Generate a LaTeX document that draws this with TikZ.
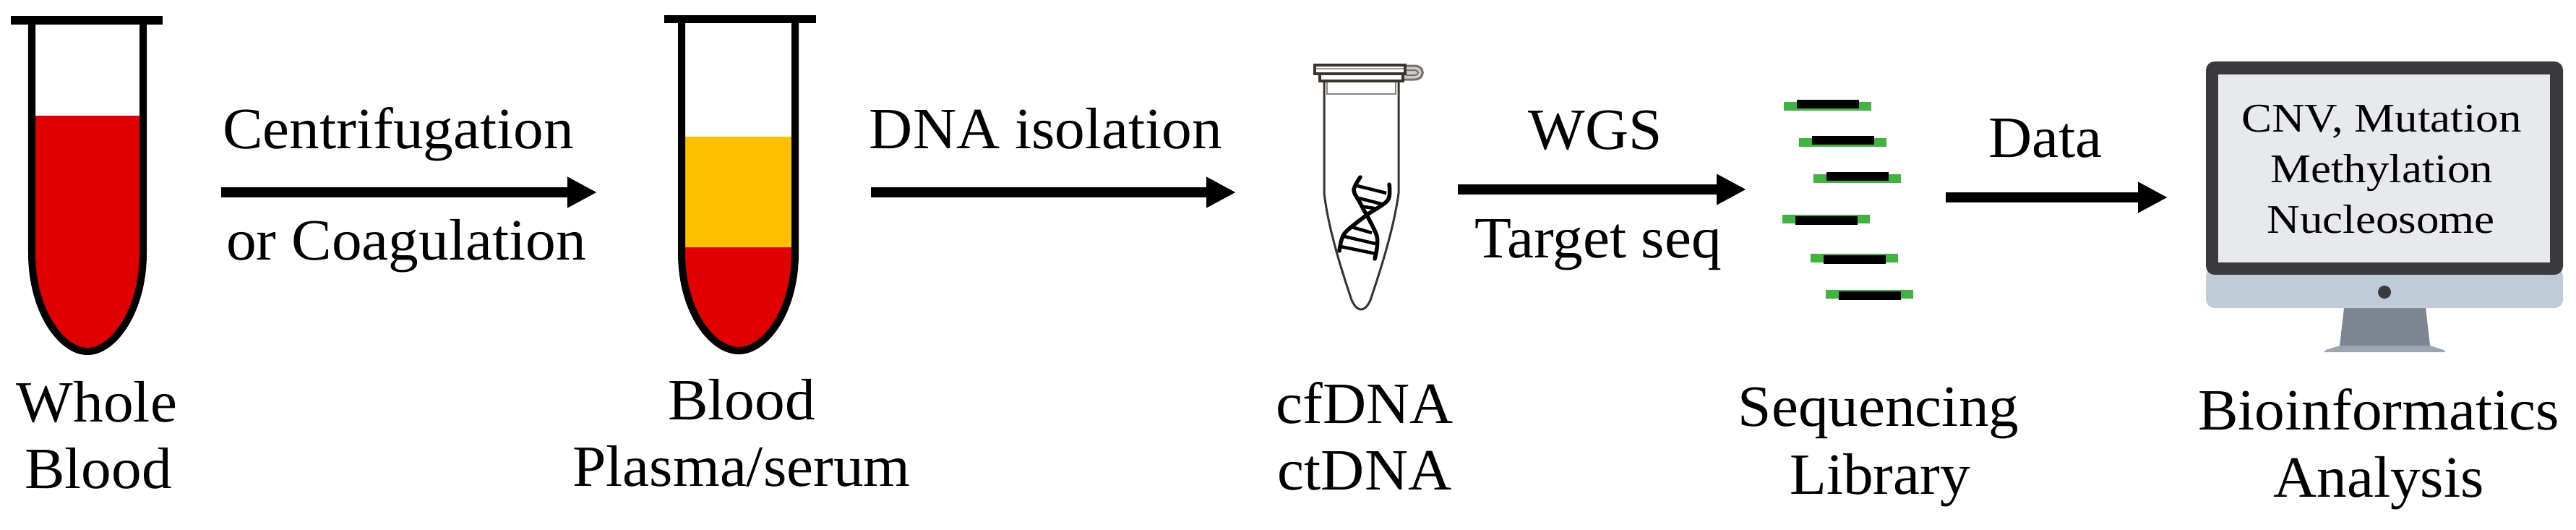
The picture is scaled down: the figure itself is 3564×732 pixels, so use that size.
\documentclass[tikz,border=0pt]{standalone}
\usepackage{fontspec}
\setmainfont[FakeStretch=1.03]{Liberation Serif}
\newfontfamily\screenfont[FakeStretch=1.12]{Liberation Serif}
\usetikzlibrary{arrows.meta}
\definecolor{bloodred}{HTML}{E00000}
\definecolor{plasmayellow}{HTML}{FFC000}
\definecolor{primergreen}{HTML}{3FB53F}
\definecolor{tubeline}{HTML}{3A3431}
\definecolor{framedark}{HTML}{3A3A3E}
\definecolor{screengray}{HTML}{E8E9EC}
\definecolor{chinblue}{HTML}{BFCBD6}
\definecolor{neckgray}{HTML}{7C8691}
\definecolor{footgray}{HTML}{9AA6B2}
\tikzset{
    bigarrow/.style={line width=1.4mm, -{Triangle[length=4.1mm,width=4mm]}},
    lab/.style={anchor=base, inner sep=0pt, font=\fontsize{23}{23}\selectfont},
    screenlab/.style={anchor=base, inner sep=0pt, font=\screenfont\fontsize{16}{16}\selectfont},
    wall/.style={line width=1mm, black}
}
\begin{document}
\begin{tikzpicture}[x=0.01cm, y=-0.01cm]
    \useasboundingbox (0,0) rectangle (3564,732);
    % Whole blood tube
    \fill[bloodred] (44,160) -- (44,350) .. controls (44,430) and (85,486) .. (121,486) .. controls (157,486) and (198,430) .. (198,350) -- (198,160) -- cycle;
    \draw[wall] (44,28) -- (44,350) .. controls (44,430) and (85,486) .. (121,486) .. controls (157,486) and (198,430) .. (198,350) -- (198,28);
    \fill[black] (15,22) rectangle (225,34);
    % Separated tube
    \fill[plasmayellow] (943,189) rectangle (1100,342);
    \fill[bloodred] (943,342) -- (943,350) .. controls (943,430) and (985,485) .. (1022,485) .. controls (1059,485) and (1100,430) .. (1100,350) -- (1100,342) -- cycle;
    \draw[wall] (943,27) -- (943,350) .. controls (943,430) and (985,485) .. (1022,485) .. controls (1059,485) and (1100,430) .. (1100,350) -- (1100,27);
    \fill[black] (919,21) rectangle (1129,32);
    % Microtube
    \draw[tubeline, line width=0.3mm] (1832,112) -- (1832,267) .. controls (1838,320) and (1860,385) .. (1870,415) .. controls (1875,426) and (1880,428) .. (1883,428) .. controls (1886,428) and (1891,426) .. (1896,415) .. controls (1906,385) and (1928,320) .. (1935,267) -- (1935,112);
    \draw[tubeline!60, line width=0.25mm] (1836,112) -- (1836,130) -- (1931,130) -- (1931,112);
    \draw[tubeline!70, line width=0.3mm, fill=tubeline!25] (1941,91) -- (1957,91) .. controls (1972,91) and (1972,110) .. (1957,110) -- (1941,110);
    \draw[tubeline!70, line width=0.2mm] (1945,97) -- (1956,97) .. controls (1964,97) and (1964,104) .. (1956,104) -- (1945,104);
    \draw[tubeline, line width=0.35mm, fill=white] (1826,102) rectangle (1941,112);
    \draw[tubeline, line width=0.35mm, fill=white] (1819,90) rectangle (1944,102);
    \draw[tubeline!50, line width=0.2mm] (1821,95) -- (1942,95);
    % DNA helix
    \draw[line width=0.55mm, black, line cap=round] plot[smooth] coordinates {(1882,245) (1873,263) (1883,283) (1905,327) (1902,358)};
    \draw[line width=0.55mm, black, line cap=round] plot[smooth] coordinates {(1922,255) (1920,277) (1890,298) (1860,323) (1853,347)};
    \foreach \xa/\ya/\xb/\yb in {1878/257/1918/267, 1876/273/1915/283, 1882/285/1907/289, 1870/314/1898/322, 1860/327/1903/337, 1855/341/1904/351}
        \draw[line width=0.45mm, black] (\xa,\ya) -- (\xb,\yb);
    % Library fragments
    \foreach \x/\y/\dy in {2468/138/3, 2489/188/3, 2509/238/3, 2466/299/-2, 2505/353/-2, 2526/403/-2} {
        \fill[primergreen] (\x,\y+\dy) rectangle ++(121,12);
        \fill[black] (\x+18,\y) rectangle ++(86,12);
    }
    % Monitor
    \fill[footgray] (3215,487) -- (3218,484) -- (3237,478) -- (3362,478) -- (3381,484) -- (3383,487) -- cycle;
    \fill[neckgray] (3243,426) -- (3356,426) -- (3362,478) -- (3237,478) -- cycle;
    \fill[chinblue, rounded corners=1.2mm] (3052,370) rectangle (3546,426);
    \fill[framedark, rounded corners=1.2mm] (3052,380) -- (3052,85) -- (3546,85) -- (3546,380) -- cycle;
    \fill[chinblue] (3052,380) rectangle (3546,392);
    \fill[screengray] (3069,103) rectangle (3528,363);
    \fill[framedark] (3299,404) circle (9);
    % Labels
    \node[lab] (whole) at (134,583) {Whole};
    \node[lab] (wholeblood) at (136,675) {Blood};
    \node[lab] (centri) at (551,205) {Centrifugation};
    \node[lab] (coag) at (562,359) {or Coagulation};
    \node[lab] (blood) at (1026,580) {Blood};
    \node[lab] (plasma) at (1026,672) {Plasma/serum};
    \node[lab] (isolation) at (1447,205) {DNA isolation};
    \node[lab] (cfdna) at (1888,585) {cfDNA};
    \node[lab] (ctdna) at (1888,677) {ctDNA};
    \node[lab] (wgs) at (2207,206) {WGS};
    \node[lab] (target) at (2211,356) {Target seq};
    \node[lab] (seq) at (2599,589) {Sequencing};
    \node[lab] (library) at (2601,683) {Library};
    \node[lab] (data) at (2830,217) {Data};
    \node[lab] (bioinf) at (3291,594) {Bioinformatics};
    \node[lab] (analysis) at (3291,687) {Analysis};
    \node[screenlab] (cnv) at (3295,182) {CNV, Mutation};
    \node[screenlab] (methyl) at (3295,252) {Methylation};
    \node[screenlab] (nucleo) at (3294,322) {Nucleosome};
    % Arrows
    \coordinate (a1) at (306,266);
    \coordinate (b1) at (826,266);
    \coordinate (a2) at (1205,266);
    \coordinate (b2) at (1710,266);
    \coordinate (a3) at (2017,262);
    \coordinate (b3) at (2416,262);
    \coordinate (a4) at (2692,273);
    \coordinate (b4) at (2999,273);
    \draw[bigarrow] (a1) -- (b1);
    \draw[bigarrow] (a2) -- (b2);
    \draw[bigarrow] (a3) -- (b3);
    \draw[bigarrow] (a4) -- (b4);
\end{tikzpicture}
\end{document}
